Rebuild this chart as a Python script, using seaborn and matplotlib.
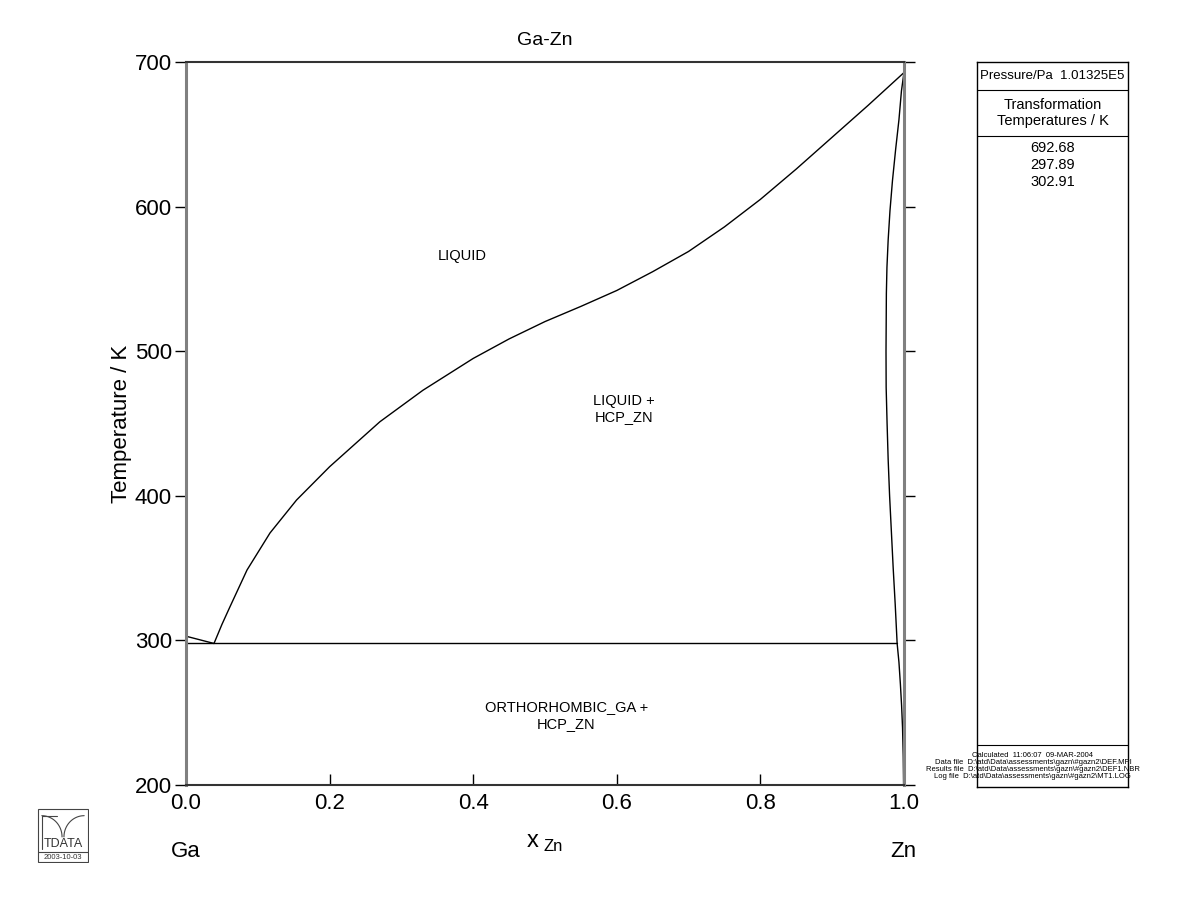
import numpy as np
import pandas as pd
import matplotlib
matplotlib.use("Agg")
import matplotlib.pyplot as plt
import seaborn as sns
from matplotlib.patches import Rectangle

sns.set_theme(style="white")
plt.rcParams['font.family'] = ['Liberation Sans', 'DejaVu Sans']
plt.rcParams['text.color'] = 'black'
plt.rcParams['axes.labelcolor'] = 'black'
plt.rcParams['xtick.color'] = 'black'
plt.rcParams['ytick.color'] = 'black'

# ---- data ----
liq_x = [0.039, 0.050, 0.061, 0.085, 0.117, 0.154, 0.20, 0.27, 0.33, 0.40, 0.45, 0.50,
         0.55, 0.60, 0.65, 0.70, 0.75, 0.80, 0.85, 0.90, 0.95, 1.0]
liq_T = [297.89, 311.0, 323.0, 348.7, 374.3, 397.1, 420.1, 451.2, 473.0, 495.0, 508.5, 520.5,
         531.0, 542.0, 555.0, 569.0, 586.0, 605.0, 626.0, 648.0, 670.0, 692.68]

ga_liq_x = [0.0, 0.039]
ga_liq_T = [302.91, 297.89]

hcp_x = [1.0, 0.9965, 0.993, 0.9885, 0.984, 0.9805, 0.978, 0.9763, 0.9755, 0.975, 0.9752,
         0.9765, 0.978, 0.980, 0.9825, 0.985, 0.9878, 0.9905]
hcp_T = [692.68, 680.0, 660.0, 640.0, 618.0, 597.0, 577.0, 558.0, 540.0, 500.0, 475.0,
         450.0, 425.0, 400.0, 375.0, 350.0, 325.0, 297.89]

solvus_x = [0.9905, 0.993, 0.995, 0.9967, 0.998, 0.999, 0.9995]
solvus_T = [297.89, 285.0, 270.0, 255.0, 240.0, 220.0, 200.0]

eut_x = [0.0, 0.9905]
eut_T = [297.89, 297.89]

ga_x = [0.0, 0.0]
ga_T = [200.0, 302.91]

x_ticks = [0.0, 0.2, 0.4, 0.6, 0.8, 1.0]
x_ticklabels = ["0.0", "0.2", "0.4", "0.6", "0.8", "1.0"]
y_ticks = [200, 300, 400, 500, 600, 700]

phase_labels = ["LIQUID", "LIQUID +\nHCP_ZN", "ORTHORHOMBIC_GA +\nHCP_ZN"]
phase_pos = [(0.385, 566), (0.61, 460), (0.53, 248)]

transf_T = ["692.68", "297.89", "302.91"]
file_lines = ["Calculated  11:06:07  09-MAR-2004",
              "Data file  D:\\atd\\Data\\assessments\\gazn\\#gazn2\\DEF.MPI",
              "Results file  D:\\atd\\Data\\assessments\\gazn\\#gazn2\\DEF1.NBR",
              "Log file  D:\\atd\\Data\\assessments\\gazn\\#gazn2\\MT1.LOG"]

# ---- figure ----
fig = plt.figure(figsize=(12, 9.23), dpi=100)
ax = fig.add_axes([0.155, 0.1495, 0.5983, 0.7833])

curves = [(liq_x, liq_T), (ga_liq_x, ga_liq_T), (hcp_x, hcp_T),
          (solvus_x, solvus_T), (eut_x, eut_T), (ga_x, ga_T)]
for cx, cT in curves:
    df = pd.DataFrame({"x": cx, "T": cT})
    sns.lineplot(data=df, x="x", y="T", sort=False, estimator=None,
                 color="black", linewidth=1.0, ax=ax)

ax.set_xlim(0, 1)
ax.set_ylim(200, 700)
ax.set_xticks(x_ticks)
ax.set_xticklabels(x_ticklabels)
ax.set_yticks(y_ticks)
ax.set_xlabel("")
ax.set_ylabel("Temperature / K", fontsize=16, labelpad=2)
ax.set_title("Ga-Zn", fontsize=14, pad=12)

for s in ["left", "right"]:
    ax.spines[s].set_color("#808080")
    ax.spines[s].set_linewidth(2.2)
for s in ["top", "bottom"]:
    ax.spines[s].set_color("#333333")
    ax.spines[s].set_linewidth(1.5)

ax.tick_params(axis="y", which="both", left=True, right=True, direction="out",
               length=8, width=1, color="black", labelsize=16, pad=2)
ax.tick_params(axis="x", which="both", bottom=True, top=False, direction="in",
               length=8, width=1, color="black", labelsize=16, pad=6)

for lab, (px, py_) in zip(phase_labels, phase_pos):
    ax.text(px, py_, lab, ha="center", va="center", fontsize=10.5)

fig.text(0.4442, 0.089, "x", fontsize=17, ha="center", va="center")
fig.text(0.4525, 0.083, "Zn", fontsize=12, ha="left", va="center")
fig.text(0.142, 0.077, "Ga", fontsize=16, ha="left", va="center")
fig.text(0.742, 0.077, "Zn", fontsize=16, ha="left", va="center")

# ---- right info panel ----
pax = fig.add_axes([0.8142, 0.1473, 0.1258, 0.7855])
pax.set_xlim(0, 1)
pax.set_ylim(0, 1)
pax.set_xticks([])
pax.set_yticks([])
for s in pax.spines.values():
    s.set_color("black")
    s.set_linewidth(1.0)
H = 725.0
def py(pix):
    return 1 - (pix - 62) / H
for yl in [90, 136, 745]:
    pax.axhline(py(yl), color="black", linewidth=0.8)
pax.text(0.5, py(76), "Pressure/Pa  1.01325E5", ha="center", va="center", fontsize=9.5)
pax.text(0.5, py(113), "Transformation\nTemperatures / K", ha="center", va="center",
         fontsize=10.5, linespacing=1.1)
for i, t in enumerate(transf_T):
    pax.text(0.5, py(148 + 17 * i), t, ha="center", va="center", fontsize=10.5)
for i, t in enumerate(file_lines):
    pax.text(0.37, py(755 + 7.3 * i), t, ha="center", va="center", fontsize=5.5, clip_on=False)

# ---- logo ----
lax = fig.add_axes([37 / 1200, 1 - 863 / 923, 52 / 1200, 56 / 923])
lax.set_xlim(-1, 53)
lax.set_ylim(-1, 57)
lax.axis("off")
lc = "#444444"
lax.add_patch(Rectangle((0, 0), 52, 55, fill=False, edgecolor=lc, linewidth=0.8))
lax.plot([0, 52], [10, 10], color=lc, linewidth=0.8)
t = np.linspace(0, np.pi / 2, 40)
lax.plot(4 + 21 * np.sin(t), 26 + 22 * np.cos(t) * 0 + 22 * (1 - np.sin(t)) * 0 + 22 * np.cos(t), color=lc, linewidth=0.8)
lax.plot(48 - 21 * np.sin(t), 26 + 22 * np.cos(t), color=lc, linewidth=0.8)
lax.plot([4, 4], [14, 48], color=lc, linewidth=0.8)
lax.plot([4, 20], [48, 48], color=lc, linewidth=0.8)
lax.text(26, 19, "TDATA", ha="center", va="center", fontsize=9, color="#333333")
lax.text(26, 5, "2003-10-03", ha="center", va="center", fontsize=5.5, color="#333333")

fig.savefig("out.png", dpi=100, facecolor="white")
